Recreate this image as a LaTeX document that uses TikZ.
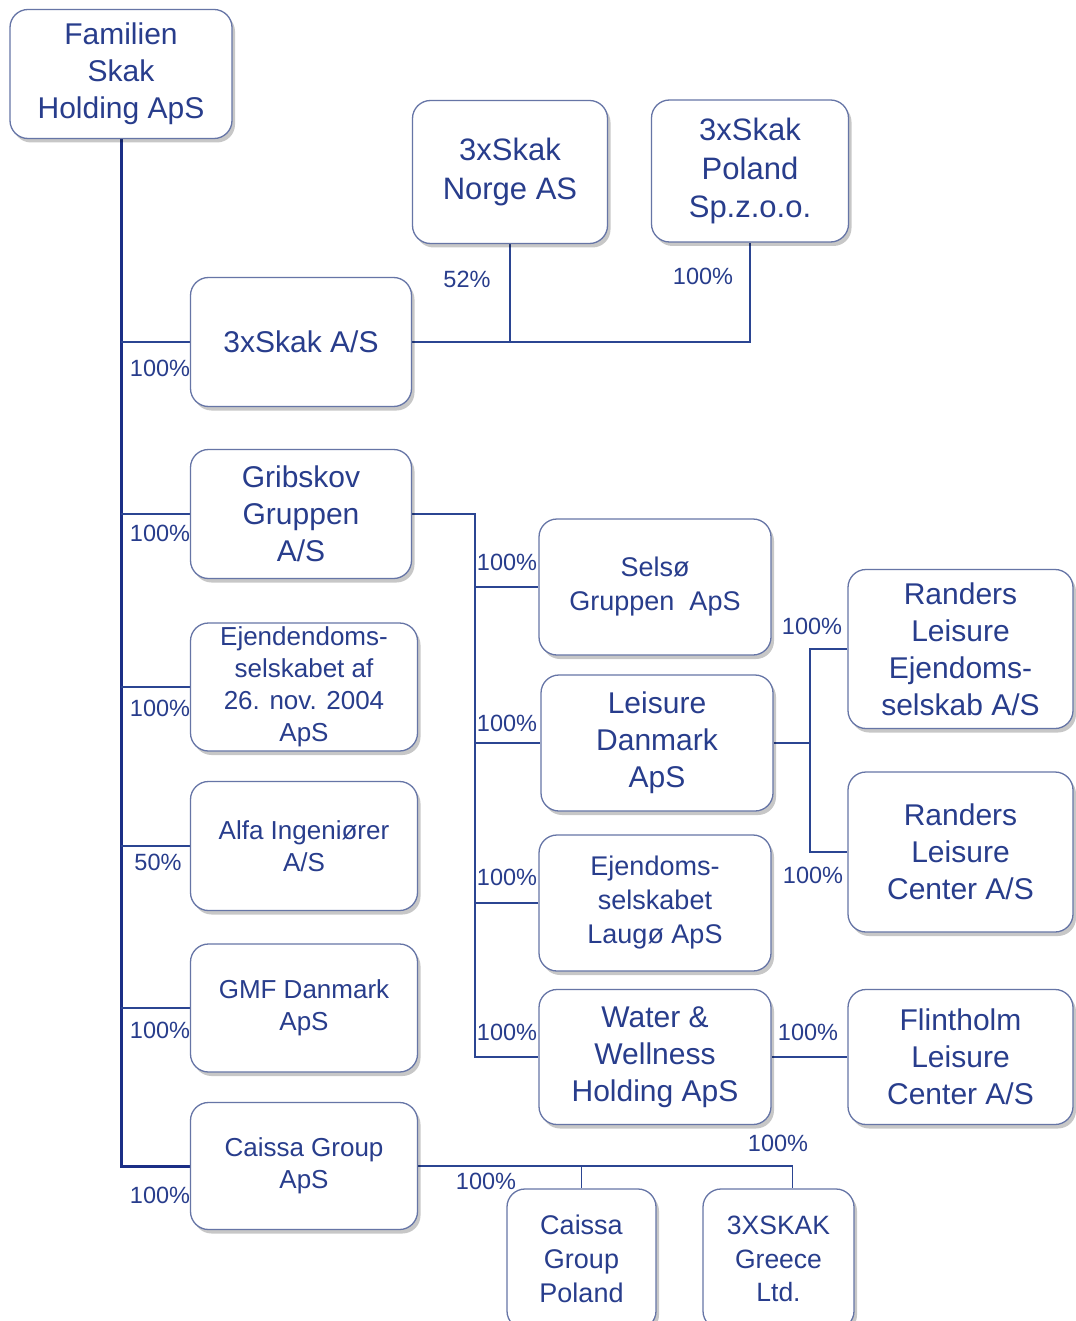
\documentclass[tikz,border=0pt]{standalone}
\usepackage{fontspec}
\setmainfont{Liberation Sans}
\usetikzlibrary{shadows}
\definecolor{txt}{HTML}{283D8C}
\definecolor{bord}{HTML}{6675A6}
\definecolor{ln}{HTML}{2B4592}
\definecolor{trk}{HTML}{1B2F86}
\pgfdeclarelayer{bg}
\pgfdeclarelayer{paper}
\pgfsetlayers{paper,bg,main}
\tikzset{
  box/.style={draw=bord, line width=1.3pt, rounded corners=18pt, fill=white,
    text=txt, align=center, inner sep=0pt,
    drop shadow={shadow xshift=3pt, shadow yshift=-4pt, fill=black, opacity=0.22}},
  big/.style={font=\fontsize{30}{37}\selectfont},
  small/.style={font=\fontsize{26}{32}\selectfont},
  mid/.style={font=\fontsize{27}{34}\selectfont},
  conn/.style={draw=ln, line width=1.8pt},
  trunk/.style={draw=trk, line width=3pt},
  pct/.style={text=txt, inner sep=0pt, font=\fontsize{23.5}{26}\selectfont}
}
\begin{document}
\begin{tikzpicture}[x=1pt, y=-1pt]
\useasboundingbox (0,0) rectangle (1075,1321);
\begin{pgfonlayer}{paper}
\fill[white] (0,0) rectangle (1075,1321);
\end{pgfonlayer}

% boxes
\node[box, big, minimum width=222pt, minimum height=129pt] (fam) at (121,74) {Familien\\Skak\\Holding ApS};
\node[box, font=\fontsize{31}{39}\selectfont, minimum width=195pt, minimum height=143pt] (norge) at (510,172) {3xSkak\\Norge AS};
\node[box, font=\fontsize{31}{38.5}\selectfont, minimum width=197pt, minimum height=142pt] (poland) at (750,171) {3xSkak\\Poland\\Sp.z.o.o.};
\node[box, big, minimum width=221pt, minimum height=129pt] (skak) at (301,342) {3xSkak A/S};
\node[box, big, minimum width=221pt, minimum height=129pt] (grib) at (301,514) {Gribskov\\Gruppen\\A/S};
\node[box, small, minimum width=227pt, minimum height=128pt] (ejend) at (304,687) {Ejendendoms-\\selskabet af\\26. nov. 2004\\ApS};
\node[box, small, minimum width=227pt, minimum height=129pt] (alfa) at (304,846) {Alfa Ingeniører\\A/S};
\node[box, small, minimum width=227pt, minimum height=128pt] (gmf) at (304,1008) {GMF Danmark\\ApS};
\node[box, small, minimum width=227pt, minimum height=127pt] (caissa) at (304,1166) {Caissa Group\\ApS};

\node[box, mid, minimum width=232pt, minimum height=136pt] (selso) at (655,587) {Selsø\\Gruppen~~ApS};
\node[box, big, minimum width=232pt, minimum height=136pt] (leis) at (657,743) {Leisure\\Danmark\\ApS};
\node[box, mid, minimum width=232pt, minimum height=136pt] (laugo) at (655,903) {Ejendoms-\\selskabet\\Laugø ApS};
\node[box, big, minimum width=232pt, minimum height=135pt] (water) at (655,1057) {Water \&\\Wellness\\Holding ApS};

\node[box, big, minimum width=225pt, minimum height=159pt] (randE) at (960.5,649) {Randers\\Leisure\\Ejendoms-\\selskab A/S};
\node[box, big, minimum width=225pt, minimum height=160pt] (randC) at (960.5,852) {Randers\\Leisure\\Center A/S};
\node[box, big, minimum width=225pt, minimum height=135pt] (flint) at (960.5,1057) {Flintholm\\Leisure\\Center A/S};

\node[box, mid, minimum width=149pt, minimum height=140pt] (cpol) at (581.5,1259) {Caissa\\Group\\Poland};
\node[box, font=\fontsize{26.5}{33.5}\selectfont, minimum width=151pt, minimum height=140pt] (greece) at (778.5,1259) {3XSKAK\\Greece\\Ltd.};

\begin{pgfonlayer}{bg}
% trunk
\draw[trunk] (fam.south) |- (caissa.west);
\foreach \n in {skak,grib,ejend,alfa,gmf}
  \draw[conn] (fam.south |- \n.west) -- (\n.west);

% 3xSkak subsidiaries
\draw[conn] (skak.east) -| (poland.south);
\draw[conn] (norge.south) -- (norge.south |- skak.east);

% Gribskov subsidiaries
\coordinate (gbus) at (475,514);
\draw[conn] (grib.east) -- (gbus) |- (water.west);
\foreach \n in {selso,leis,laugo}
  \draw[conn] (gbus |- \n.west) -- (\n.west);

% Leisure Danmark subsidiaries
\coordinate (lbus) at (810,743);
\draw[conn] (leis.east) -- (lbus);
\draw[conn] (randE.west) -| (lbus) |- (randC.west);

% Water & Wellness
\draw[conn] (water.east) -- (flint.west);

% Caissa subsidiaries
\draw[conn] (caissa.east) -| ([xshift=14pt]greece.north);
\draw[conn] (cpol.north) -- (cpol.north |- caissa.east);

% percentages
\node[pct] (p1) at (160,368) {100\%};
\node[pct] (p2) at (160,533) {100\%};
\node[pct] (p3) at (160,708) {100\%};
\node[pct] (p4) at (158,862) {50\%};
\node[pct] (p5) at (160,1030) {100\%};
\node[pct] (p6) at (160,1195) {100\%};
\node[pct] (p7) at (467,279) {52\%};
\node[pct] (p8) at (703,276) {100\%};
\node[pct] (p9) at (507,562) {100\%};
\node[pct] (p10) at (507,723) {100\%};
\node[pct] (p11) at (507,877) {100\%};
\node[pct] (p12) at (507,1032) {100\%};
\node[pct] (p13) at (812,626) {100\%};
\node[pct] (p14) at (813,875) {100\%};
\node[pct] (p15) at (808,1032) {100\%};
\node[pct] (p16) at (486,1181) {100\%};
\node[pct] (p17) at (778,1143) {100\%};
\end{pgfonlayer}
\end{tikzpicture}
\end{document}
